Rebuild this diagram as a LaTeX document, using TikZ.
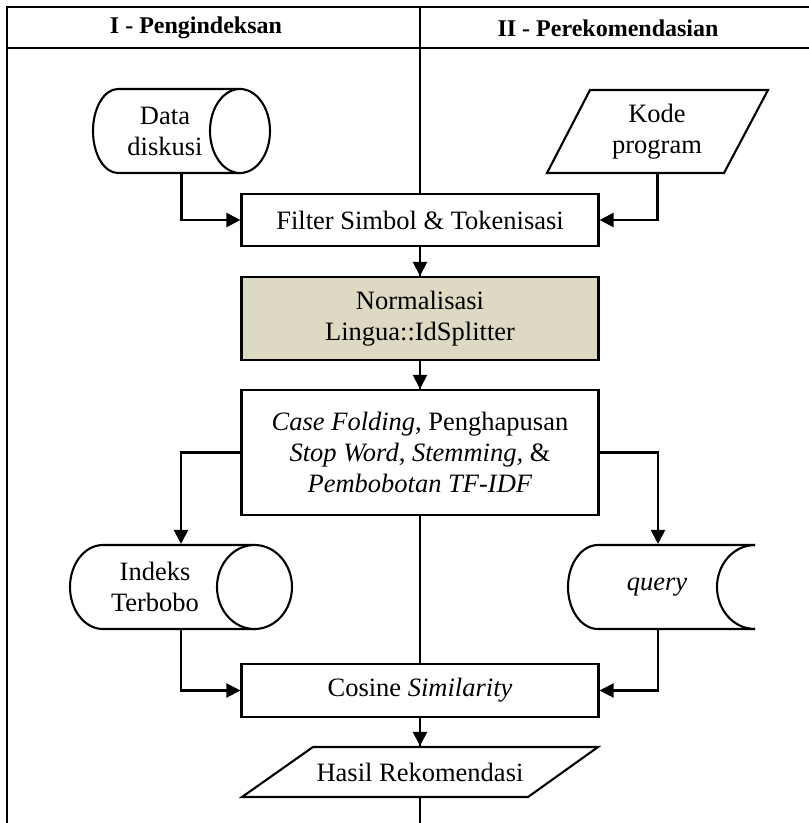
\documentclass[tikz,border=0pt]{standalone}
\usepackage{fontspec}
\setmainfont{Liberation Serif}
\usetikzlibrary{arrows.meta}
\definecolor{tanfill}{HTML}{DDD9C3}
\begin{document}
\begin{tikzpicture}[x=1pt,y=-1pt,
  line width=2.1pt,
  every node/.style={font=\fontsize{26.5}{31}\selectfont, align=center, inner sep=0pt},
  box/.style={draw, fill=white, minimum width=357pt},
  hdr/.style={font=\fontsize{24}{30}\selectfont\bfseries},
  ghost/.style={draw=none},
  arr/.style={-{Triangle[length=14pt,width=14pt]}},
]
\useasboundingbox (0,0) rectangle (809,823);
% frame
\draw (7,823) -- (7,7) -- (809,7);
\draw (7,48) -- (809,48);
\draw (420,7) -- (420,823);
\node[hdr] (h1) at (196,28) {I - Pengindeksan};
\node[hdr] (h2) at (608,28) {II - Perekomendasian};

% Data diskusi cylinder (x 93-270, y 89-173)
\draw[fill=white] (240,89) -- (118,89) arc[start angle=90, end angle=270, x radius=25pt, y radius=42pt] -- (240,173) -- cycle;
\draw[fill=white] (240,131) ellipse[x radius=30pt, y radius=42pt];
\node[ghost, minimum width=177pt, minimum height=84pt] (data) at (181.5,131) {};
\node (datat) at (165,131) {Data\\diskusi};

% Kode program parallelogram
\node[ghost, minimum width=221pt, minimum height=83pt] (kode) at (657.5,131.5) {};
\draw[fill=white] (590,90) -- (768,90) -- (724,173) -- (547,173) -- cycle;
\node (kodet) at (657,131.5) {Kode\\program};

% process boxes
\node[box, minimum height=52pt] (filter) at (420,220) {Filter Simbol \& Tokenisasi};
\node[box, fill=tanfill, minimum height=83pt] (norm) at (420,318.5) {Normalisasi\\Lingua::IdSplitter};
\node[box, minimum height=125pt] (case) at (420,452.5) {\textit{Case Folding}, Penghapusan\\\textit{Stop Word}, \textit{Stemming,} \&\\\textit{Pembobotan TF-IDF}};

% Indeks Terbobo cylinder (x 70-292, y 545-629)
\draw[fill=white] (254.5,545) -- (103,545) arc[start angle=90, end angle=270, x radius=33pt, y radius=42pt] -- (254.5,629) -- cycle;
\draw[fill=white] (254.5,587) ellipse[x radius=37.5pt, y radius=42pt];
\node[ghost, minimum width=222pt, minimum height=84pt] (indeks) at (181,587) {};
\node (indekst) at (155,587) {Indeks\\Terbobo};

% query cylinder (x 568-755, clipped at right)
\draw[fill=white] (755,545) -- (598,545) arc[start angle=90, end angle=270, x radius=30pt, y radius=42pt] -- (755,629);
\draw (755,545) arc[start angle=90, end angle=270, x radius=38pt, y radius=42pt];
\node[ghost, minimum width=180pt, minimum height=84pt] (query) at (658,587) {};
\node (queryt) at (657,587) {\textit{query}};

% Cosine
\node[box, minimum height=53pt] (cos) at (420,690.5) {Cosine \textit{Similarity}};

% Hasil parallelogram
\node[ghost, minimum width=356pt, minimum height=50pt] (hasil) at (420,772) {};
\draw[fill=white] (313,747) -- (598,747) -- (528,797) -- (242,797) -- cycle;
\node (hasilt) at (420,772) {Hasil Rekomendasi};

% connectors
\draw[arr] (data.south) |- (filter.west);
\draw[arr] (kode.south) |- (filter.east);
\draw[arr] (filter.south) -- (norm.north);
\draw[arr] (norm.south) -- (case.north);
\draw[arr] (case.west) -| (indeks.north);
\draw[arr] (case.east) -| (query.north);
\draw[arr] (indeks.south) |- (cos.west);
\draw[arr] (query.south) |- (cos.east);
\draw[arr] (cos.south) -- (hasil.north);
\end{tikzpicture}
\end{document}
